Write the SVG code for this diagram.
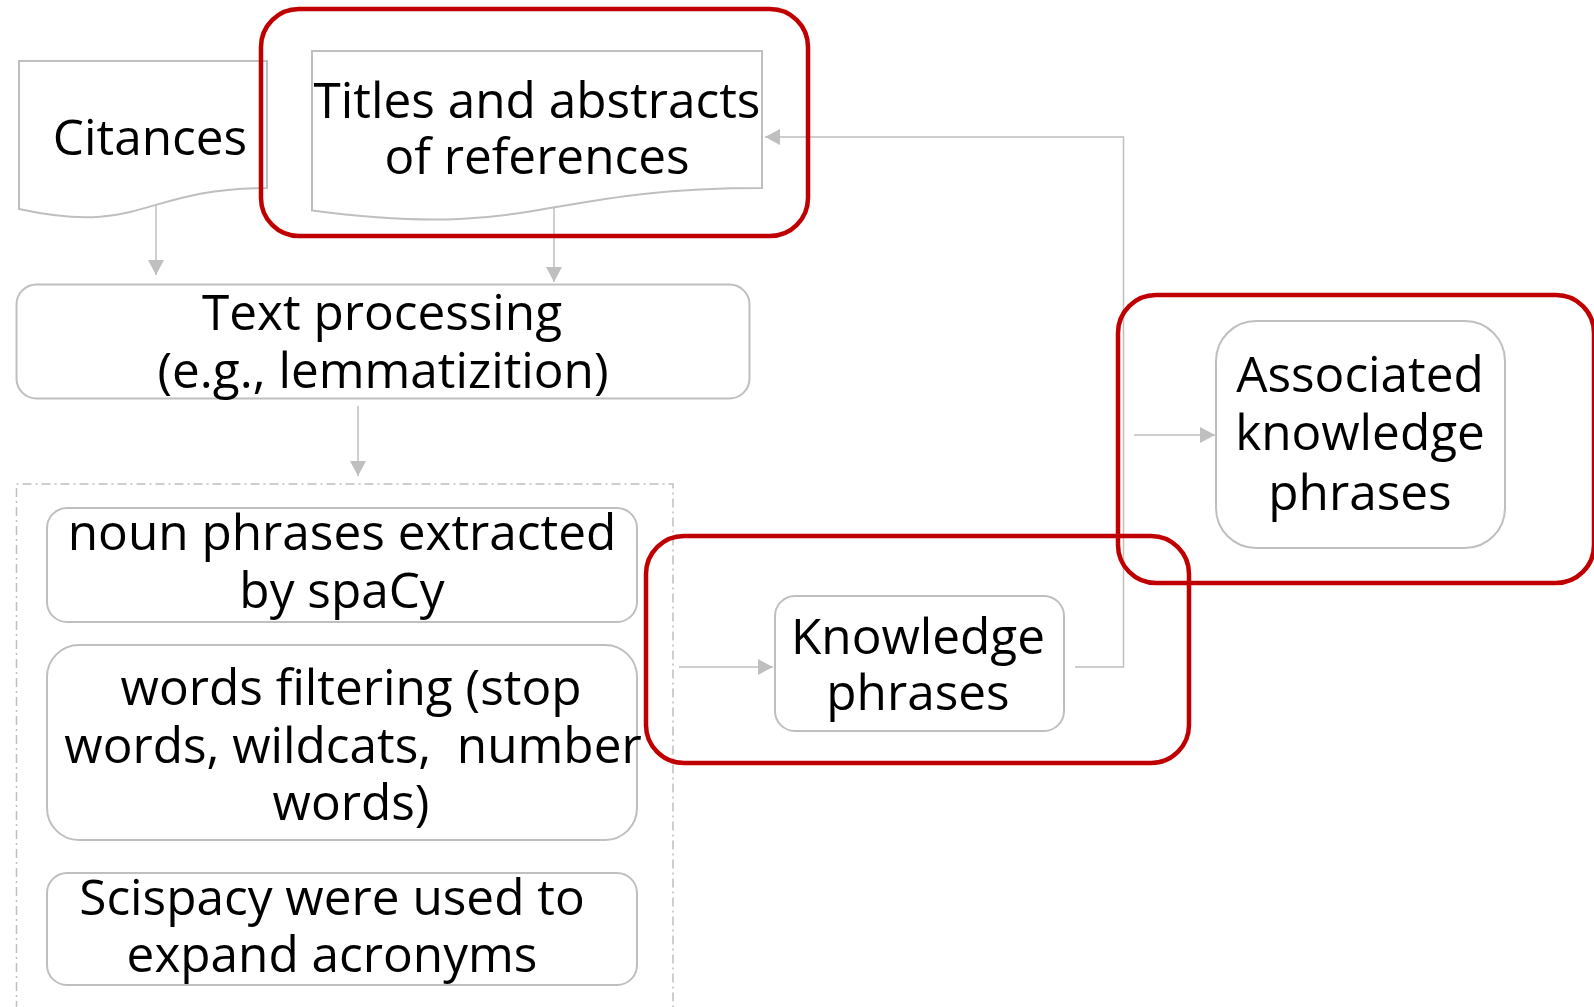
<svg xmlns="http://www.w3.org/2000/svg" width="1594" height="1007" viewBox="0 0 1594 1007">
  <defs>
    <marker id="arrow" markerUnits="userSpaceOnUse" markerWidth="16" markerHeight="16" viewBox="0 0 16 16" refX="15" refY="8" orient="auto">
      <path d="M0,0 L15,8 L0,16 Z" fill="#BFBFBF"/>
    </marker>
    <style>
      .shape { fill: #FFFFFF; stroke: #BFBFBF; stroke-width: 2; }
      .group { fill: none; stroke: #BFBFBF; stroke-width: 1.5; stroke-dasharray: 9 4 2 4; }
      .mark { fill: none; stroke: #C00000; stroke-width: 4.5; }
      .edge { fill: none; stroke: #BFBFBF; stroke-width: 1.5; marker-end: url(#arrow); }
      text { font-family: "Open Sans", "Noto Sans", "DejaVu Sans", sans-serif; font-size: 49.5px; fill: #000000; text-anchor: middle; }
    </style>
  </defs>
  <rect width="1594" height="1007" fill="#FFFFFF"/>

  <!-- dashed container for the processing steps -->
  <g id="steps-group">
    <path class="group" d="M16.5,1010 V484 H673 V1010"/>
  </g>

  <g id="citances">
    <path class="shape" d="M19,61 H267 V188 C143,188 143,236 19,209 Z"/>
    <text x="150" y="155">Citances</text>
  </g>

  <g id="titles-abstracts">
    <path class="shape" d="M312,51 H762 V188 C537,188 537,240 312,210.5 Z"/>
    <text x="537" y="118">Titles and abstracts</text>
    <text x="537" y="174">of references</text>
  </g>

  <g id="text-processing">
    <rect class="shape" x="16.5" y="284.5" width="733" height="114" rx="20"/>
    <text x="382" y="330">Text processing</text>
    <text x="383" y="388">(e.g., lemmatizition)</text>
  </g>

  <g id="noun-phrases">
    <rect class="shape" x="47" y="508" width="590" height="114" rx="20"/>
    <text x="342" y="550">noun phrases extracted</text>
    <text x="342" y="608">by spaCy</text>
  </g>

  <g id="words-filtering">
    <rect class="shape" x="47" y="645" width="590" height="195" rx="32"/>
    <text x="351" y="705">words filtering (stop</text>
    <text x="353" y="763" xml:space="preserve">words, wildcats,  number</text>
    <text x="351" y="820">words)</text>
  </g>

  <g id="scispacy">
    <rect class="shape" x="47" y="873" width="590" height="112" rx="20"/>
    <text x="332" y="915">Scispacy were used to</text>
    <text x="332" y="972">expand acronyms</text>
  </g>

  <g id="knowledge-phrases">
    <rect class="shape" x="775" y="596" width="289" height="135" rx="20"/>
    <text x="918" y="654">Knowledge</text>
    <text x="918" y="710">phrases</text>
  </g>

  <g id="associated-phrases">
    <rect class="shape" x="1216" y="321" width="289" height="227" rx="40"/>
    <text x="1360" y="392">Associated</text>
    <text x="1360" y="450">knowledge</text>
    <text x="1360" y="510">phrases</text>
  </g>

  <g id="connectors">
    <path class="edge" d="M156,205 V275"/>
    <path class="edge" d="M554,208 V282"/>
    <path class="edge" d="M358,406 V476"/>
    <path class="edge" d="M679,667 H773"/>
    <path class="edge" d="M1075,667 H1123.5 V137 H765"/>
    <path class="edge" d="M1134,435 H1215"/>
  </g>

  <!-- red highlight frames -->
  <g id="highlights">
    <rect class="mark" x="261" y="9" width="547" height="227" rx="38"/>
    <rect class="mark" x="646" y="536" width="543" height="227" rx="38"/>
    <rect class="mark" x="1118" y="295" width="476" height="288" rx="38"/>
  </g>
</svg>
